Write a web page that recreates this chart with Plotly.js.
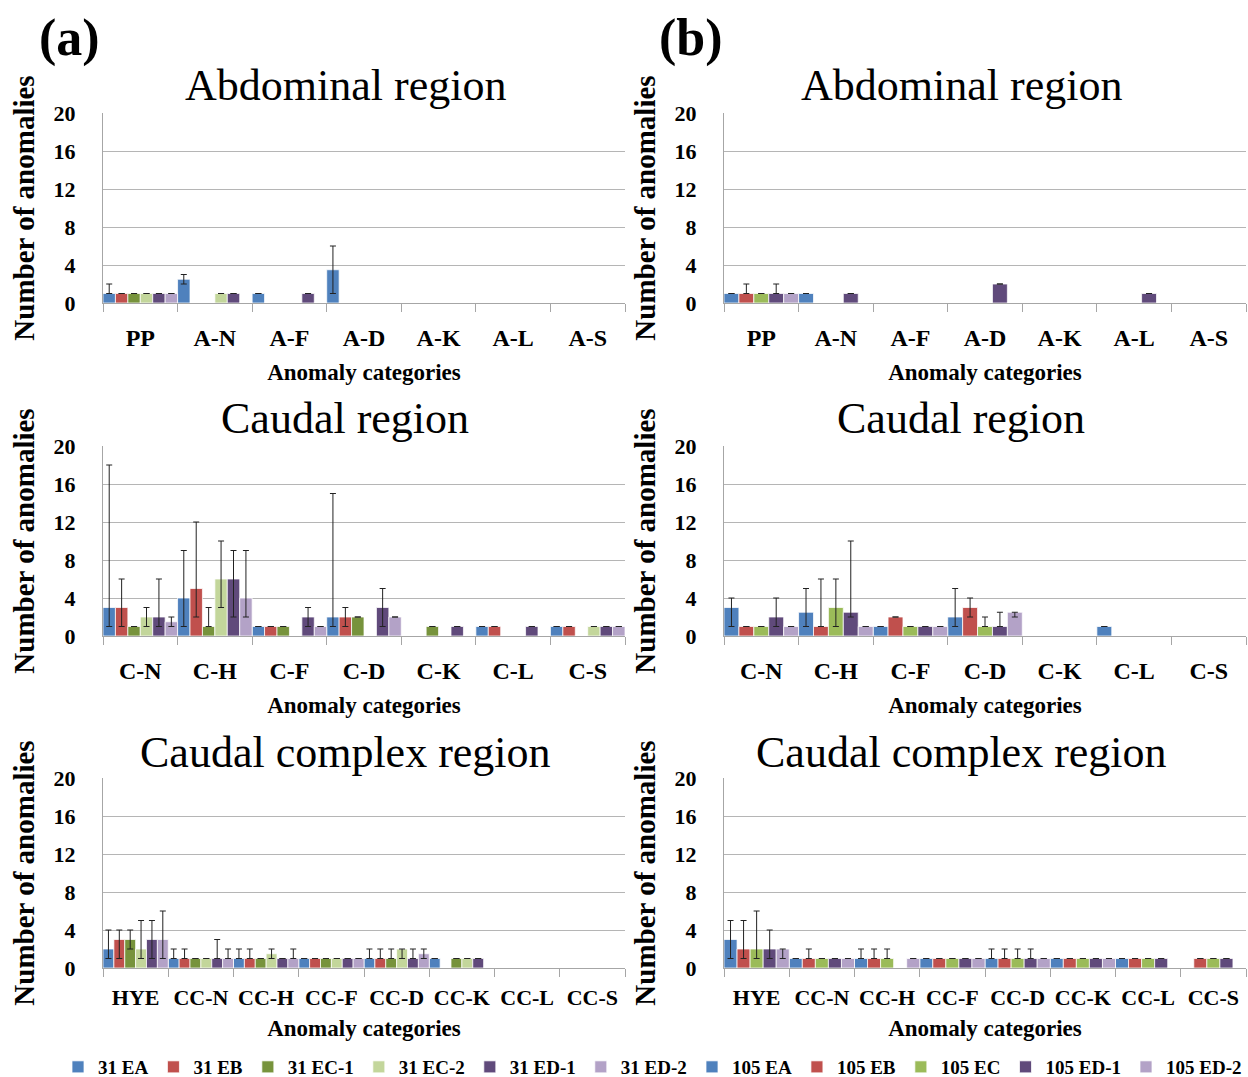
<!DOCTYPE html>
<html>
<head>
<meta charset="utf-8">
<script src="https://cdn.plot.ly/plotly-3.0.1.min.js"></script>
<style>html,body{margin:0;padding:0;background:#fff;}#chart{width:1248px;height:1077px;}</style>
</head>
<body>
<div id="chart"></div>
<script>
// ---------- categories & series ----------
const catsAbd = ['PP','A-N','A-F','A-D','A-K','A-L','A-S'];
const catsCau = ['C-N','C-H','C-F','C-D','C-K','C-L','C-S'];
const catsCC  = ['HYE','CC-N','CC-H','CC-F','CC-D','CC-K','CC-L','CC-S'];
const seriesA = ['31 EA','31 EB','31 EC-1','31 EC-2','31 ED-1','31 ED-2'];
const seriesB = ['105 EA','105 EB','105 EC','105 ED-1','105 ED-2'];

// ---------- (a) Abdominal: mean values, max (hi), min (lo) ----------
const abdA_val = [
  [1, 2.5, 1, 3.5, 0, 0, 0],
  [1, 0, 0, 0, 0, 0, 0],
  [1, 0, 0, 0, 0, 0, 0],
  [1, 1, 0, 0, 0, 0, 0],
  [1, 1, 1, 0, 0, 0, 0],
  [1, 0, 0, 0, 0, 0, 0]
];
const abdA_hi = [[2, 3, null, 6], [], [], [], [], []];
const abdA_lo = [[1, 2, null, 1], [], [], [], [], []];

// ---------- (b) Abdominal ----------
const abdB_val = [
  [1, 1, 0, 0, 0, 0, 0],
  [1, 0, 0, 0, 0, 0, 0],
  [1, 0, 0, 0, 0, 0, 0],
  [1, 1, 0, 2, 0, 1, 0],
  [1, 0, 0, 0, 0, 0, 0]
];
const abdB_hi = [[], [2], [], [2], []];
const abdB_lo = [[], [1], [], [1], []];

// ---------- (a) Caudal ----------
const cauA_val = [
  [3, 4, 1, 2, 0, 1, 1],
  [3, 5, 1, 2, 0, 1, 1],
  [1, 1, 1, 2, 1, 0, 0],
  [2, 6, 0, 0, 0, 0, 1],
  [2, 6, 2, 3, 1, 1, 1],
  [1.5, 4, 1, 2, 0, 0, 1]
];
const cauA_hi = [[18, 9, null, 15], [6, 12, null, 3], [null, 3], [3, 10], [6, 9, 3, 5], [2, 9]];
const cauA_lo = [[1, 1, null, 1], [1, 2, null, 1], [null, 1], [1, 3], [1, 2, 1, 1], [1, 2]];

// ---------- (b) Caudal ----------
const cauB_val = [
  [3, 2.5, 1, 2, 0, 1, 0],
  [1, 1, 2, 3, 0, 0, 0],
  [1, 3, 1, 1, 0, 0, 0],
  [2, 2.5, 1, 1, 0, 0, 0],
  [1, 1, 1, 2.5, 0, 0, 0]
];
const cauB_hi = [[4, 5, null, 5], [null, 6, null, 4], [null, 6, null, 2], [4, 10, null, 2.5], [null, null, null, 2.5]];
const cauB_lo = [[1, 1, null, 1], [null, 1, null, 2], [null, 1, null, 1], [1, 2, null, 1], [null, null, null, 2]];

// ---------- (a) Caudal complex ----------
const ccA_val = [
  [2, 1, 1, 1, 1, 1, 0, 0],
  [3, 1, 1, 1, 1, 0, 0, 0],
  [3, 1, 1, 1, 1, 1, 0, 0],
  [2, 1, 1.5, 1, 2, 1, 0, 0],
  [3, 1, 1, 1, 1, 1, 0, 0],
  [3, 1, 1, 1, 1.5, 0, 0, 0]
];
const ccA_hi = [[4, 2, 2, null, 2], [4, 2, 2, null, 2], [4, null, null, null, 2], [5, null, 2, null, 2], [5, 3, null, null, 2], [6, 2, 2, null, 2]];
const ccA_lo = [[1, 1, 1, null, 1], [1, 1, 1, null, 1], [2, null, null, null, 1], [1, null, 1, null, 1], [1, 1, null, null, 1], [1, 1, 1, null, 1]];

// ---------- (b) Caudal complex ----------
const ccB_val = [
  [3, 1, 1, 1, 1, 1, 1, 0],
  [2, 1, 1, 1, 1, 1, 1, 1],
  [2, 1, 1, 1, 1, 1, 1, 1],
  [2, 1, 0, 1, 1, 1, 1, 1],
  [2, 1, 1, 1, 1, 1, 0, 0]
];
const ccB_hi = [[5, null, 2, null, 2], [5, 2, 2, null, 2], [6, null, 2, null, 2], [4, null, null, null, 2], [2]];
const ccB_lo = [[1, null, 1, null, 1], [1, 1, 1, null, 1], [1, null, 1, null, 1], [1, null, null, null, 1], [1]];

// ---------- styles ----------
const FONT = '"Liberation Serif", "Times New Roman", serif';
const colorsA = ['#4F81BD', '#C0504D', '#77933C', '#C3D69B', '#604A7B', '#B3A2C7'];
const colorsB = ['#4F81BD', '#C0504D', '#9BBB59', '#604A7B', '#B3A2C7'];

const traces = [];
function addPanel(ax, cats, series, colors, vals, hi, lo, showLegend, legendName) {
  const axs = ax === 1 ? '' : String(ax);
  series.forEach((name, s) => {
    const y = vals[s];
    const plus = y.map((v, c) => v ? ((hi[s][c] ?? v) - v) : NaN);
    const minus = y.map((v, c) => v ? (v - (lo[s][c] ?? v)) : NaN);
    traces.push({
      type: 'bar', x: cats, y: y, name: name,
      xaxis: 'x' + axs, yaxis: 'y' + axs,
      marker: {color: colors[s], line: {color: 'rgba(255,255,255,0.75)', width: 1}},
      error_y: {type: 'data', symmetric: false, array: plus, arrayminus: minus,
                color: '#222', thickness: 1, width: 3},
      showlegend: showLegend, legend: legendName, legendgroup: legendName + name,
      hoverinfo: 'skip'
    });
  });
}
addPanel(1, catsAbd, seriesA, colorsA, abdA_val, abdA_hi, abdA_lo, true, 'legend');
addPanel(2, catsAbd, seriesB, colorsB, abdB_val, abdB_hi, abdB_lo, true, 'legend2');
addPanel(3, catsCau, seriesA, colorsA, cauA_val, cauA_hi, cauA_lo, false, 'legend');
addPanel(4, catsCau, seriesB, colorsB, cauB_val, cauB_hi, cauB_lo, false, 'legend2');
addPanel(5, catsCC, seriesA, colorsA, ccA_val, ccA_hi, ccA_lo, false, 'legend');
addPanel(6, catsCC, seriesB, colorsB, ccB_val, ccB_hi, ccB_lo, false, 'legend2');

const W = 1248, H = 1077;
const xDomA = [103 / W, 625 / W];
const xDomB = [724 / W, 1246 / W];
const yDom = [
  [(H - 303) / H, (H - 113) / H],
  [(H - 636) / H, (H - 446) / H],
  [(H - 968) / H, (H - 778) / H]
];

function xAxis(domain, anchor, fsize, lblOff, ttlOff) {
  return {
    domain: domain, anchor: anchor, type: 'category',
    tickson: 'boundaries', ticks: 'outside', ticklen: 8, tickcolor: '#a6a6a6', tickwidth: 1,
    showline: true, linecolor: '#a6a6a6', linewidth: 1, showgrid: false, zeroline: false,
    tickangle: 0,
    tickfont: {family: FONT, size: fsize, weight: 700, color: '#000'},
    ticklabelstandoff: lblOff,
    title: {text: 'Anomaly categories', font: {family: FONT, size: 23, weight: 700, color: '#000'}, standoff: ttlOff},
    fixedrange: true
  };
}
function yAxis(domain, anchor) {
  return {
    domain: domain, anchor: anchor, range: [0, 20], tick0: 0, dtick: 4,
    showgrid: true, gridcolor: '#b5b5b5', gridwidth: 1, zeroline: false,
    showline: true, linecolor: '#a6a6a6', linewidth: 1, ticks: '',
    tickfont: {family: FONT, size: 22, weight: 700, color: '#000'},
    ticklabelstandoff: 22,
    title: {text: 'Number of anomalies', font: {family: FONT, size: 29, weight: 700, color: '#000'}, standoff: 10},
    fixedrange: true
  };
}

function ann(text, xpx, ypx, size, bold) {
  return {text: text, x: xpx / W, y: (H - ypx) / H, xref: 'paper', yref: 'paper',
          xanchor: 'center', yanchor: 'middle', showarrow: false,
          font: {family: FONT, size: size, weight: bold ? 700 : 400, color: '#000'}};
}

const legendFont = {family: FONT, size: 19, weight: 700, color: '#000'};
const layout = {
  width: W, height: H,
  margin: {l: 0, r: 0, t: 0, b: 0, autoexpand: false},
  paper_bgcolor: '#fff', plot_bgcolor: '#fff',
  barmode: 'group', bargap: 0, bargroupgap: 0,
  font: {family: FONT, color: '#000'},
  xaxis: xAxis(xDomA, 'y', 24, 13, 14),   yaxis: yAxis(yDom[0], 'x'),
  xaxis2: xAxis(xDomB, 'y2', 24, 13, 14), yaxis2: yAxis(yDom[0], 'x2'),
  xaxis3: xAxis(xDomA, 'y3', 24, 13, 14), yaxis3: yAxis(yDom[1], 'x3'),
  xaxis4: xAxis(xDomB, 'y4', 24, 13, 14), yaxis4: yAxis(yDom[1], 'x4'),
  xaxis5: xAxis(xDomA, 'y5', 22, 10, 10), yaxis5: yAxis(yDom[2], 'x5'),
  xaxis6: xAxis(xDomB, 'y6', 22, 10, 10), yaxis6: yAxis(yDom[2], 'x6'),
  legend: {orientation: 'h', x: 58 / W, xanchor: 'left', y: (H - 1067) / H, yanchor: 'middle',
           font: legendFont, bgcolor: 'rgba(0,0,0,0)', traceorder: 'normal'},
  legend2: {orientation: 'h', x: 1247 / W, xanchor: 'right', y: (H - 1067) / H, yanchor: 'middle',
           font: legendFont, bgcolor: 'rgba(0,0,0,0)', traceorder: 'normal'},
  annotations: [
    ann('(a)', 69, 38, 52, true),
    ann('(b)', 691, 38, 52, true),
    ann('Abdominal region', 345, 86, 44, false),
    ann('Abdominal region', 961, 86, 44, false),
    ann('Caudal region', 345, 419, 44, false),
    ann('Caudal region', 961, 419, 44, false),
    ann('Caudal complex region', 345, 752, 44, false),
    ann('Caudal complex region', 961, 752, 44, false)
  ]
};

Plotly.newPlot('chart', traces, layout, {displayModeBar: false, staticPlot: true});
</script>
</body>
</html>
